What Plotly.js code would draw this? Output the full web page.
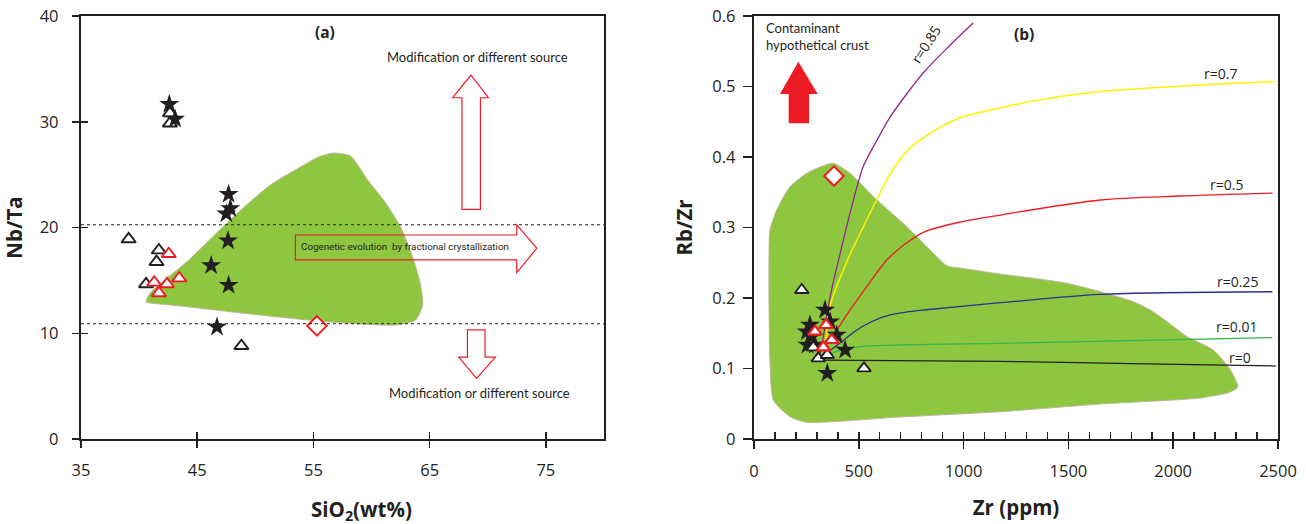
<!DOCTYPE html>
<html><head><meta charset="utf-8">
<script src="https://cdn.plot.ly/plotly-3.0.1.min.js"></script>
<style>html,body{margin:0;padding:0;background:#fff}</style>
</head><body><div id="chart" style="width:1306px;height:524px"></div>
<script>
// ---------- Panel (a): Nb/Ta vs SiO2 ----------
const aStarSiO2 = [42.6, 43.1, 47.7, 47.85, 47.5, 47.65, 46.2, 47.7, 46.7];
const aStarNbTa = [31.65, 30.25, 23.15, 21.8, 21.3, 18.75, 16.4, 14.55, 10.6];
const aTriSiO2 = [42.65, 42.65, 39.1, 41.7, 41.5, 40.6, 48.8];
const aTriNbTa = [30.8, 29.85, 18.9, 17.85, 16.75, 14.65, 8.8];
const aRedTriSiO2 = [42.55, 41.3, 42.4, 43.45, 41.7];
const aRedTriNbTa = [17.5, 14.8, 14.65, 15.2, 13.8];
const aDiamondSiO2 = [55.3];
const aDiamondNbTa = [10.7];
const aFieldSiO2 = [40.6, 40.95, 44.28, 48.1, 51.29, 53.88, 55.43, 56.72, 58.19, 59.66, 61.03, 62.5, 63.62, 64.22, 64.4, 63.79, 62.07, 56.47, 49.57, 43.53, 40.95, 40.6];
const aFieldNbTa = [12.96, 13.81, 16.93, 20.99, 24.02, 25.72, 26.67, 27.04, 26.76, 24.49, 22.6, 20.05, 16.93, 14.56, 12.67, 11.25, 10.78, 11.06, 11.82, 12.58, 12.86, 12.96];
const aLimitLines = [20.26, 10.9];
const aXTicks = [35, 45, 55, 65, 75];
const aYTicks = [0, 10, 20, 30, 40];

// ---------- Panel (b): Rb/Zr vs Zr ----------
const bStarZr = [339, 363, 267, 252, 395, 255, 291, 435, 350, 275];
const bStarRbZr = [0.183, 0.1664, 0.1617, 0.1522, 0.1475, 0.1333, 0.1333, 0.1262, 0.0932, 0.145];
const bTriZr = [228, 307, 350, 283, 525, 252, 283];
const bTriRbZr = [0.2113, 0.1144, 0.1191, 0.13, 0.1002, -0.044, -0.0345];
const bRedTriZr = [291, 344, 371, 331];
const bRedTriRbZr = [0.1522, 0.1617, 0.1404, 0.13];
const bDiamondZr = [382];
const bDiamondRbZr = [0.373];
const bFieldZr = [378.7, 458.5, 569.7, 729.2, 872.5, 921.7, 983.8, 1174.8, 1332.4, 1493.3, 1652.3, 1810, 1891, 1971, 2066.4, 2192, 2273, 2308, 2273, 2130, 1652, 1175, 697, 251.7, 171.9, 92.2, 76.4, 71.6, 71.6, 76.4, 108.4, 171.9, 251.7, 315, 378.7];
const bFieldRbZr = [0.3911, 0.3769, 0.3437, 0.3011, 0.2586, 0.2454, 0.2426, 0.234, 0.228, 0.2209, 0.2089, 0.1948, 0.183, 0.1664, 0.1451, 0.1262, 0.0979, 0.0742, 0.0667, 0.0582, 0.0496, 0.0387, 0.0312, 0.0237, 0.0316, 0.0553, 0.112, 0.197, 0.254, 0.2965, 0.3248, 0.3579, 0.3769, 0.3858, 0.3911];
const curveR0Zr = [330, 1175, 1800, 2490];
const curveR0RbZr = [0.112, 0.110, 0.107, 0.1035];
const curveR001Zr = [329.5, 410.7, 472.8, 539.6, 697.2, 1174.8, 2473.7];
const curveR001RbZr = [0.1163, 0.1262, 0.1298, 0.1319, 0.1333, 0.1357, 0.1437];
const curveR025Zr = [334.3, 410.7, 490.5, 568.3, 649.5, 725.9, 808.5, 1174.8, 1652.3, 2473.7];
const curveR025RbZr = [0.1191, 0.1362, 0.1546, 0.1674, 0.1759, 0.1801, 0.183, 0.1933, 0.2052, 0.2089];
const curveR05Zr = [324.7, 353.4, 458.5, 538.2, 633.7, 721.1, 808.5, 983.8, 1174.8, 1652.3, 2034, 2473.7];
const curveR05RbZr = [0.1262, 0.1362, 0.183, 0.2161, 0.2539, 0.2766, 0.2932, 0.3078, 0.3177, 0.339, 0.3447, 0.3489];
const curveR07Zr = [343.8, 363, 448.9, 587.4, 649.5, 730.7, 807.1, 969.4, 1174.8, 1332.4, 1652.3, 2129.9, 2483.3];
const curveR07RbZr = [0.1333, 0.1887, 0.2553, 0.3404, 0.3759, 0.4085, 0.427, 0.4539, 0.4695, 0.4794, 0.4929, 0.5021, 0.5068];
const curveR085Zr = [324.7, 343.8, 372.5, 405.9, 453.7, 520.5, 587.4, 649.5, 807.1, 926.5, 1045.8];
const curveR085RbZr = [0.1333, 0.1688, 0.2142, 0.2567, 0.3149, 0.3858, 0.4241, 0.4567, 0.5191, 0.556, 0.5901];
const bXTicks = [0, 500, 1000, 1500, 2000, 2500];
const bYTicks = [0, 0.1, 0.2, 0.3, 0.4, 0.5, 0.6];

// ---------- decoration outlines (arrows) ----------
const arrowUpX = [68.56, 70.06, 69.37, 69.37, 67.78, 67.78, 66.98];
const arrowUpY = [34.42, 32.27, 32.27, 21.72, 21.72, 32.27, 32.27];
const arrowDownX = [68.25, 69.77, 69.77, 70.66, 69.03, 67.5, 68.25];
const arrowDownY = [10.31, 10.31, 7.75, 7.75, 5.74, 7.75, 7.75];
const arrowRightX = [53.45, 72.5, 72.5, 74.22, 72.5, 72.5, 53.45];
const arrowRightY = [19.29, 19.29, 20.24, 18.03, 15.73, 16.93, 16.93];
const crustArrowX = [211.6, 304.2, 262.7, 262.7, 165.7, 165.7, 124.2];
const crustArrowY = [0.5352, 0.4894, 0.4894, 0.4478, 0.4478, 0.4894, 0.4894];

const INK = '#231f20';
const FONT = 'Open Sans, Noto Sans, sans-serif';
const GREEN = '#8dc63f';
const RED = '#ed1c24';

function pathFrom(xs, ys) {
  return 'M' + xs.map((x, i) => x + ',' + ys[i]).join(' L') + ' Z';
}
function curve(xs, ys, color, width) {
  return {x: xs, y: ys, xaxis: 'x2', yaxis: 'y2', mode: 'lines',
          line: {color: color, width: width, shape: 'spline', smoothing: 0.8}};
}

const traces = [
  // panel a
  {x: aFieldSiO2, y: aFieldNbTa, xaxis: 'x', yaxis: 'y', mode: 'lines', fill: 'toself',
   fillcolor: GREEN, line: {color: '#c4b49c', width: 1, shape: 'spline', smoothing: 0.6}, hoverinfo: 'skip'},
  {x: aStarSiO2, y: aStarNbTa, xaxis: 'x', yaxis: 'y', mode: 'markers',
   marker: {symbol: 'star', size: 15, color: INK, line: {width: 0}}},
  {x: aTriSiO2, y: aTriNbTa, xaxis: 'x', yaxis: 'y', mode: 'markers',
   marker: {symbol: 'triangle-up', size: 12.5, color: 'rgba(255,255,255,0)', line: {color: INK, width: 1.9}}},
  {x: aRedTriSiO2, y: aRedTriNbTa, xaxis: 'x', yaxis: 'y', mode: 'markers',
   marker: {symbol: 'triangle-up', size: 12.5, color: '#ffffff', line: {color: RED, width: 1.9}}},
  {x: aDiamondSiO2, y: aDiamondNbTa, xaxis: 'x', yaxis: 'y', mode: 'markers',
   marker: {symbol: 'diamond', size: 15, color: '#ffffff', line: {color: RED, width: 2}}},
  // dummy traces to activate inner tick axes
  {x: [null], y: [null], xaxis: 'x3', yaxis: 'y', mode: 'markers', hoverinfo: 'skip'},
  {x: [null], y: [null], xaxis: 'x', yaxis: 'y3', mode: 'markers', hoverinfo: 'skip'},
  // panel b
  {x: bFieldZr, y: bFieldRbZr, xaxis: 'x2', yaxis: 'y2', mode: 'lines', fill: 'toself',
   fillcolor: GREEN, line: {color: '#c4b49c', width: 1, shape: 'spline', smoothing: 0.6}, hoverinfo: 'skip'},
  curve(curveR0Zr, curveR0RbZr, INK, 1.3),
  curve(curveR001Zr, curveR001RbZr, '#39b54a', 1.3),
  curve(curveR025Zr, curveR025RbZr, '#2e3192', 1.3),
  curve(curveR05Zr, curveR05RbZr, RED, 1.3),
  curve(curveR07Zr, curveR07RbZr, '#fff200', 1.5),
  curve(curveR085Zr, curveR085RbZr, '#92278f', 1.3),
  {x: bStarZr, y: bStarRbZr, xaxis: 'x2', yaxis: 'y2', mode: 'markers',
   marker: {symbol: 'star', size: 15, color: INK, line: {width: 0}}},
  {x: bTriZr, y: bTriRbZr, xaxis: 'x2', yaxis: 'y2', mode: 'markers', cliponaxis: false,
   marker: {symbol: 'triangle-up', size: 12, color: '#ffffff', line: {color: INK, width: 1.9}}},
  {x: bRedTriZr, y: bRedTriRbZr, xaxis: 'x2', yaxis: 'y2', mode: 'markers',
   marker: {symbol: 'triangle-up', size: 12, color: '#ffffff', line: {color: RED, width: 2.2}}},
  {x: bDiamondZr, y: bDiamondRbZr, xaxis: 'x2', yaxis: 'y2', mode: 'markers',
   marker: {symbol: 'diamond', size: 15, color: '#ffffff', line: {color: RED, width: 2}}},
  {x: [null], y: [null], xaxis: 'x4', yaxis: 'y2', mode: 'markers', hoverinfo: 'skip'}
];

const tickFont = {family: FONT, size: 16.5, color: INK};
const titleFont = {family: FONT, size: 20.5, color: INK, weight: 'bold'};

function mainAxis(extra) {
  return Object.assign({
    showgrid: false, zeroline: false, showline: true, linecolor: INK, linewidth: 2.2,
    mirror: true, ticks: 'outside', ticklen: 7, tickwidth: 1.5, tickcolor: INK,
    tickfont: tickFont, tickmode: 'array', fixedrange: true
  }, extra);
}
function innerTickAxis(extra) {
  return Object.assign({
    showgrid: false, zeroline: false, showline: false, ticks: 'inside', ticklen: 7,
    tickwidth: 1.5, tickcolor: INK, showticklabels: false, fixedrange: true
  }, extra);
}

const layout = {
  width: 1306, height: 524,
  margin: {l: 81, r: 28, t: 16, b: 85},
  paper_bgcolor: '#ffffff', plot_bgcolor: 'rgba(0,0,0,0)',
  showlegend: false,
  font: {family: FONT, color: INK},
  xaxis: mainAxis({domain: [0, 0.4369], range: [35, 80], tickvals: aXTicks, anchor: 'y',
    ticklabelstandoff: 8}),
  yaxis: mainAxis({domain: [0, 1], range: [0, 40], tickvals: aYTicks, anchor: 'x',
    ticklabelstandoff: 10,
    title: {text: 'Nb/Ta', font: titleFont, standoff: 13}}),
  xaxis3: innerTickAxis({overlaying: 'x', anchor: 'y', range: [35, 80], tickmode: 'array', tickvals: aXTicks}),
  yaxis3: innerTickAxis({overlaying: 'y', anchor: 'x', range: [0, 40], tickmode: 'array', tickvals: aYTicks}),
  xaxis2: mainAxis({domain: [0.5622, 1], range: [0, 2500], tickvals: bXTicks, anchor: 'y2', ticklen: 8,
    ticklabelstandoff: 8,
    title: {text: 'Zr (ppm)', font: titleFont, standoff: 20}}),
  yaxis2: mainAxis({domain: [0, 1], range: [0, 0.6], tickvals: bYTicks, anchor: 'x2', ticklen: 9,
    ticklabelstandoff: 4,
    ticktext: ['0', '0.1', '0.2', '0.3', '0.4', '0.5', '0.6'],
    title: {text: 'Rb/Zr', font: titleFont, standoff: 14}}),
  xaxis4: innerTickAxis({overlaying: 'x2', anchor: 'y2', range: [0, 2500], tickmode: 'linear', tick0: 0, dtick: 100}),
  shapes: [
    {type: 'line', xref: 'x', yref: 'y', x0: 35, x1: 80, y0: aLimitLines[0], y1: aLimitLines[0],
     line: {color: INK, width: 1, dash: 'dot'}, layer: 'above'},
    {type: 'line', xref: 'x', yref: 'y', x0: 35, x1: 80, y0: aLimitLines[1], y1: aLimitLines[1],
     line: {color: INK, width: 1, dash: 'dot'}, layer: 'above'},
    {type: 'path', xref: 'x', yref: 'y', path: pathFrom(arrowUpX, arrowUpY),
     line: {color: RED, width: 1.2}, fillcolor: 'rgba(255,255,255,0)', layer: 'above'},
    {type: 'path', xref: 'x', yref: 'y', path: pathFrom(arrowDownX, arrowDownY),
     line: {color: RED, width: 1.2}, fillcolor: 'rgba(255,255,255,0)', layer: 'above'},
    {type: 'path', xref: 'x', yref: 'y', path: pathFrom(arrowRightX, arrowRightY),
     line: {color: RED, width: 1.2}, fillcolor: 'rgba(255,255,255,0)', layer: 'above'},
    {type: 'path', xref: 'x2', yref: 'y2', path: pathFrom(crustArrowX, crustArrowY),
     line: {color: RED, width: 0}, fillcolor: RED, layer: 'above'}
  ],
  annotations: [
    {xref: 'x', yref: 'paper', x: 59.14, y: -0.168, yanchor: 'middle', text: 'SiO<sub>2</sub>(wt%)', showarrow: false,
     font: titleFont},
    {xref: 'x', yref: 'y', x: 56.03, y: 38.45, text: '(a)', showarrow: false,
     font: {family: FONT, size: 15.5, color: INK, weight: 'bold'}},
    {xref: 'x', yref: 'y', x: 69.11, y: 36.15, text: 'Modification or different source', showarrow: false,
     font: {family: 'Lato, Open Sans, sans-serif', size: 13, color: INK}},
    {xref: 'x', yref: 'y', x: 69.3, y: 4.38, text: 'Modification or different source', showarrow: false,
     font: {family: 'Lato, Open Sans, sans-serif', size: 13, color: INK}},
    {xref: 'x', yref: 'y', x: 62.85, y: 18.18, text: 'Cogenetic evolution  by fractional crystallization', showarrow: false,
     font: {family: 'Roboto, sans-serif', size: 9.8, color: INK}},
    {xref: 'x2', yref: 'y2', x: 1286, y: 0.574, text: '(b)', showarrow: false,
     font: {family: FONT, size: 15.5, color: INK, weight: 'bold'}},
    {xref: 'x2', yref: 'y2', x: 47.8, y: 0.5716, xanchor: 'left', align: 'left',
     text: 'Contaminant<br>hypothetical crust', showarrow: false,
     font: {family: 'Lato, Open Sans, sans-serif', size: 13, color: INK}},
    {xref: 'x2', yref: 'y2', x: 818, y: 0.56, text: 'r=0.85', textangle: -57, showarrow: false,
     font: {family: FONT, size: 14, color: INK}},
    {xref: 'x2', yref: 'y2', x: 2225, y: 0.519, text: 'r=0.7', showarrow: false,
     font: {family: FONT, size: 14, color: INK}},
    {xref: 'x2', yref: 'y2', x: 2254, y: 0.3617, text: 'r=0.5', showarrow: false,
     font: {family: FONT, size: 14, color: INK}},
    {xref: 'x2', yref: 'y2', x: 2306, y: 0.224, text: 'r=0.25', showarrow: false,
     font: {family: FONT, size: 14, color: INK}},
    {xref: 'x2', yref: 'y2', x: 2302, y: 0.159, text: 'r=0.01', showarrow: false,
     font: {family: FONT, size: 14, color: INK}},
    {xref: 'x2', yref: 'y2', x: 2321, y: 0.1163, text: 'r=0', showarrow: false,
     font: {family: FONT, size: 14, color: INK}}
  ]
};

Plotly.newPlot('chart', traces, layout, {staticPlot: true, displayModeBar: false});
</script>
</body></html>
